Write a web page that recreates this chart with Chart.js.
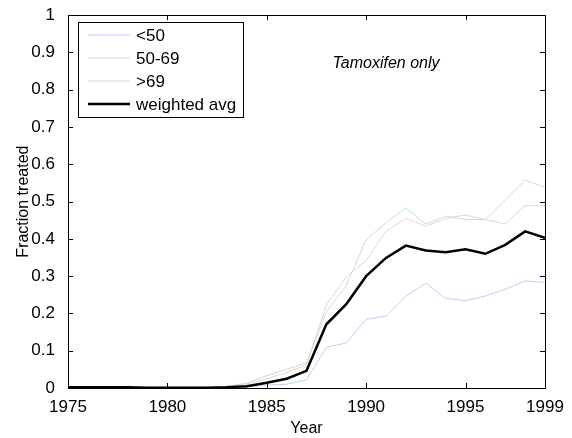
<!DOCTYPE html>
<html>
<head>
<meta charset="utf-8">
<script src="https://cdn.jsdelivr.net/npm/chart.js@4/dist/chart.umd.min.js"></script>
<style>
  html, body { margin: 0; padding: 0; background: #fff; }
  #wrap { width: 572px; height: 438px; }
</style>
</head>
<body>
<div id="wrap"><canvas id="myChart" width="572" height="438"></canvas></div>
<script>
// data
const years = [1975, 1976, 1977, 1978, 1979, 1980, 1981, 1982, 1983, 1984, 1985, 1986, 1987,
               1988, 1989, 1990, 1991, 1992, 1993, 1994, 1995, 1996, 1997, 1998, 1999];
const under50 = [0.000, 0.000, 0.000, 0.000, 0.000, 0.000, 0.000, 0.000, 0.001, 0.003, 0.008, 0.010, 0.022,
                 0.109, 0.121, 0.184, 0.193, 0.246, 0.281, 0.241, 0.234, 0.247, 0.265, 0.287, 0.283];
const age50to69 = [0.002, 0.002, 0.002, 0.002, 0.002, 0.002, 0.002, 0.002, 0.004, 0.010, 0.025, 0.042, 0.062,
                   0.222, 0.298, 0.342, 0.421, 0.455, 0.434, 0.455, 0.464, 0.452, 0.440, 0.489, 0.489];
const over69 = [0.002, 0.002, 0.002, 0.002, 0.002, 0.002, 0.002, 0.002, 0.005, 0.013, 0.033, 0.050, 0.068,
                0.204, 0.275, 0.398, 0.443, 0.483, 0.440, 0.461, 0.452, 0.452, 0.505, 0.558, 0.538];
const weighted = [0.002, 0.002, 0.002, 0.002, 0.001, 0.001, 0.001, 0.001, 0.002, 0.005, 0.014, 0.025, 0.046,
                  0.171, 0.225, 0.300, 0.349, 0.382, 0.369, 0.364, 0.372, 0.360, 0.384, 0.420, 0.403];
const xTicks = [1975, 1980, 1985, 1990, 1995, 1999];
const yTicks = [0, 0.1, 0.2, 0.3, 0.4, 0.5, 0.6, 0.7, 0.8, 0.9, 1];

const FONT = "'Liberation Sans', Arial, Helvetica, sans-serif";

function pts(vals) {
    return years.map((y, i) => ({ x: y, y: vals[i] }));
}

// inward ticks on all four sides + full box
const frame = {
    id: 'frame',
    afterDraw(chart) {
        const ctx = chart.ctx, a = chart.chartArea;
        const xs = chart.scales.x, ys = chart.scales.y;
        const len = 5;
        ctx.save();
        ctx.strokeStyle = '#000';
        ctx.lineWidth = 1;
        ctx.beginPath();
        xTicks.forEach(v => {
            const px = Math.round(xs.getPixelForValue(v)) + 0.5;
            ctx.moveTo(px, a.bottom); ctx.lineTo(px, a.bottom - len);
            ctx.moveTo(px, a.top); ctx.lineTo(px, a.top + len);
        });
        yTicks.forEach(v => {
            const py = Math.round(ys.getPixelForValue(v)) + 0.5;
            ctx.moveTo(a.left, py); ctx.lineTo(a.left + len, py);
            ctx.moveTo(a.right, py); ctx.lineTo(a.right - len, py);
        });
        ctx.stroke();
        ctx.strokeRect(Math.round(a.left) + 0.5, Math.round(a.top) + 0.5,
                       Math.round(a.right - a.left), Math.round(a.bottom - a.top));

        // annotation
        ctx.fillStyle = '#000';
        ctx.font = 'italic 16px ' + FONT;
        ctx.textAlign = 'center';
        ctx.textBaseline = 'middle';
        ctx.fillText('Tamoxifen only', 386, 64);

        // legend box inside the axes
        const bx = 78, by = 22, bw = 165, bh = 95;
        ctx.fillStyle = '#fff';
        ctx.fillRect(bx, by, bw, bh);
        ctx.strokeRect(bx + 0.5, by + 0.5, bw, bh);
        ctx.font = '17px ' + FONT;
        ctx.textAlign = 'left';
        chart.data.datasets.forEach((ds, i) => {
            const ly = 35 + i * 23;
            ctx.strokeStyle = ds.borderColor;
            ctx.lineWidth = ds.borderWidth;
            ctx.beginPath();
            ctx.moveTo(88, ly); ctx.lineTo(130, ly);
            ctx.stroke();
            ctx.fillStyle = '#000';
            ctx.fillText(ds.label, 136, ly + 1);
        });
        ctx.restore();
    }
};

const ctx = document.getElementById('myChart').getContext('2d');
new Chart(ctx, {
    type: 'line',
    data: {
        datasets: [
            { label: '<50', data: pts(under50), borderColor: '#bcd0f2', borderWidth: 1, order: 3 },
            { label: '50-69', data: pts(age50to69), borderColor: '#efcfd2', borderWidth: 1, order: 2 },
            { label: '>69', data: pts(over69), borderColor: '#c9e0cc', borderWidth: 1, order: 1 },
            { label: 'weighted avg', data: pts(weighted), borderColor: '#000', borderWidth: 2.5, order: 0 }
        ]
    },
    options: {
        responsive: false,
        animation: false,
        devicePixelRatio: 1,
        elements: { point: { radius: 0 }, line: { tension: 0 } },
        layout: { padding: { left: 0, top: 14, right: 27, bottom: 0 } },
        plugins: { legend: { display: false }, tooltip: { enabled: false } },
        scales: {
            x: {
                type: 'linear',
                min: 1975,
                max: 1999,
                afterBuildTicks: s => { s.ticks = xTicks.map(v => ({ value: v })); },
                afterFit: s => { s.height = 50; },
                grid: { display: false },
                border: { display: false },
                ticks: { color: '#000', padding: 1, maxRotation: 0, autoSkip: false,
                         font: { family: FONT, size: 17 }, callback: v => String(v) },
                title: { display: true, text: 'Year', color: '#000', padding: { top: 0, bottom: 0 },
                         font: { family: FONT, size: 16 } }
            },
            y: {
                min: 0,
                max: 1,
                afterBuildTicks: s => { s.ticks = yTicks.map(v => ({ value: v })); },
                afterFit: s => { s.width = 68; },
                grid: { display: false },
                border: { display: false },
                ticks: { color: '#000', padding: 5, autoSkip: false,
                         font: { family: FONT, size: 17 }, callback: v => String(Math.round(v * 10) / 10) },
                title: { display: true, text: 'Fraction treated', color: '#000', padding: { top: 14, bottom: 0 },
                         font: { family: FONT, size: 16 } }
            }
        }
    },
    plugins: [frame]
});
</script>
</body>
</html>
